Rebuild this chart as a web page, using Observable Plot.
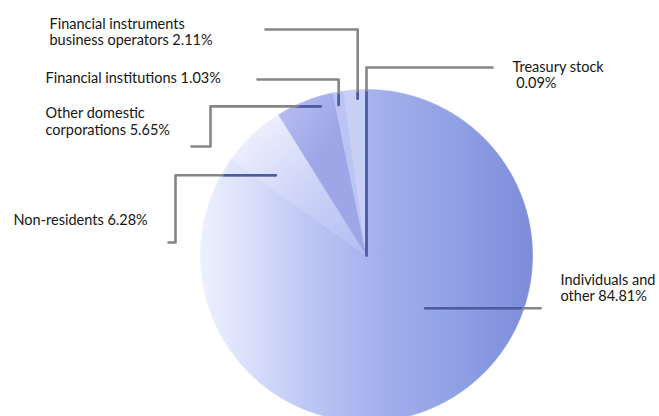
<!DOCTYPE html>
<html><head><meta charset="utf-8">
<script src="https://cdn.jsdelivr.net/npm/d3@7"></script>
<script src="https://cdn.jsdelivr.net/npm/@observablehq/plot@0.6"></script>
<style>body{margin:0;background:#fff}</style>
</head><body><div id="chart"></div>
<script>
// ---- data ----
const categories = ["Individuals and other", "Non-residents", "Other domestic corporations", "Financial institutions", "Financial instruments business operators", "Treasury stock"];
const shares = [84.81, 6.28, 5.65, 1.03, 2.11, 0.09];
const labels = ["Individuals and\nother 84.81%", "Non-residents 6.28%", "Other domestic\ncorporations 5.65%", "Financial institutions 1.03%", "Financial instruments\nbusiness operators 2.11%", "Treasury stock\n\u00a00.09%"];

// ---- layout (units = px relative to pie centre, y up) ----
const W = 659, H = 416, CX = 366, CY = 255, R = 166;
const fills = ["url(#gInd)", "url(#gNR)", "url(#gOD)", "#bcc4f3", "#c9d0f6", "#9aa6ea"];
const leaders = [
  {i: 0, t: 0.432, r: 79,  route: [["h", 174]]},
  {i: 1, t: 0.27,  r: 121, route: [["h", -191], ["v", 13], ["h", -198]]},
  {i: 2, t: 0.73,  r: 156, route: [["h", -156], ["v", 109], ["h", -175]]},
  {i: 3, t: 0.31,  r: 153, route: [["v", 176], ["h", -109]]},
  {i: 4, t: 0.62,  r: 157, route: [["v", 226], ["h", -101]]},
  {i: 5, t: 0.5,   r: 0,   route: [["v", 188], ["h", 126]]}
];
const labelPos = [
  {i: 0, x: 194, y: -17.7},
  {i: 1, x: -353, y: 42},
  {i: 2, x: -321, y: 149},
  {i: 3, x: -321, y: 184.3},
  {i: 4, x: -317, y: 238.3},
  {i: 5, x: 146, y: 195.7}
];

// ---- geometry from data ----
const total = d3.sum(shares);
let acc = 0;
const slices = categories.map((c, i) => {
  const a0 = acc / total * 360; acc += shares[i];
  return {c, i, a0, a1: acc / total * 360};
});
const polar = (deg, r) => [r * Math.sin(deg * Math.PI / 180), r * Math.cos(deg * Math.PI / 180)];
const slicePts = s => {
  const n = Math.max(2, Math.ceil((s.a1 - s.a0) / 0.5));
  const pts = [{x: 0, y: 0}];
  for (let k = 0; k <= n; k++) {
    const [x, y] = polar(s.a0 + (s.a1 - s.a0) * k / n, R);
    pts.push({x, y});
  }
  pts.push({x: 0, y: 0});
  return pts;
};
const leaderPts = leaders.flatMap(L => {
  const s = slices[L.i];
  let [x, y] = polar(s.a0 + (s.a1 - s.a0) * L.t, L.r);
  const pts = [{k: L.i, x, y}];
  for (const [d, v] of L.route) { if (d === "h") x = v; else y = v; pts.push({k: L.i, x, y}); }
  return pts;
});
const textData = labelPos.map(p => ({...p, text: labels[p.i]}));

const chart = Plot.plot({
  width: W, height: H, margin: 0,
  x: {domain: [-CX, W - CX], range: [0, W], axis: null},
  y: {domain: [CY - H, CY], range: [H, 0], axis: null},
  style: {fontFamily: "Lato, 'Open Sans', sans-serif", fontSize: "14.5px", background: "white", overflow: "visible"},
  marks: [
    ...slices.map(s => Plot.line(slicePts(s), {x: "x", y: "y", fill: fills[s.i], stroke: fills[s.i], strokeWidth: 0.6, curve: "linear"})),
    Plot.line(leaderPts, {x: "x", y: "y", z: "k", stroke: "#858585", strokeWidth: 2.6, curve: "linear"}),
    Plot.line(leaderPts, {x: "x", y: "y", z: "k", stroke: "#4b5aa6", strokeWidth: 2.6, curve: "linear"}),
    Plot.text(textData, {x: "x", y: "y", text: "text", textAnchor: "start", lineAnchor: "top", lineHeight: 1.14, fill: "#151515"})
  ]
});

const svg = d3.select(chart);
const defs = svg.insert("defs", ":first-child");
const lg = defs.append("linearGradient").attr("id", "gInd").attr("gradientUnits", "userSpaceOnUse")
  .attr("x1", CX - R).attr("x2", CX + R).attr("y1", 0).attr("y2", 0);
[[0, "#eef0fd"], [0.12, "#dde3fb"], [0.32, "#bec7f4"], [0.52, "#a6b1ee"], [0.75, "#91a2e5"], [1, "#7c8cda"]]
  .forEach(([o, c]) => lg.append("stop").attr("offset", o).attr("stop-color", c));
const rg = defs.append("radialGradient").attr("id", "gNR").attr("gradientUnits", "userSpaceOnUse")
  .attr("cx", CX).attr("cy", CY).attr("r", R);
[[0, "#b3bcf1"], [0.55, "#cdd4f7"], [1, "#eceefd"]]
  .forEach(([o, c]) => rg.append("stop").attr("offset", o).attr("stop-color", c));
const og = defs.append("linearGradient").attr("id", "gOD").attr("gradientUnits", "userSpaceOnUse")
  .attr("x1", CX - 90).attr("y1", CY - 140).attr("x2", CX - 40).attr("y2", CY - 110);
[[0, "#b6bcf0"], [1, "#9ea6e8"]]
  .forEach(([o, c]) => og.append("stop").attr("offset", o).attr("stop-color", c));
// clip the darker inner part of the leader lines to the pie disc
defs.append("clipPath").attr("id", "pieClip")
  .append("circle").attr("cx", CX).attr("cy", CY).attr("r", R - 2);
const lineGroups = svg.selectAll('g[aria-label="line"]').nodes();
if (lineGroups.length) d3.select(lineGroups[lineGroups.length - 1]).attr("clip-path", "url(#pieClip)");

document.getElementById("chart").appendChild(chart);
</script>
</body></html>
